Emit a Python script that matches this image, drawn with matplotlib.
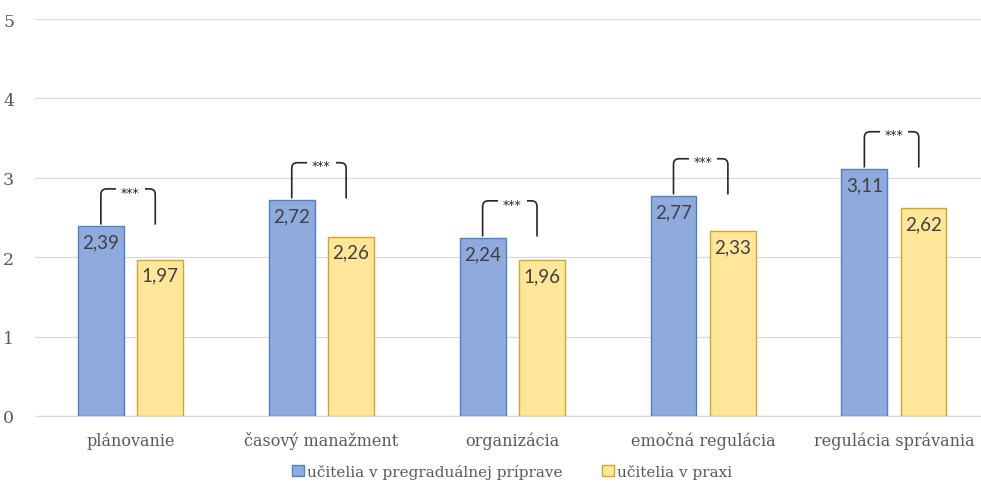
import numpy as np
import matplotlib
matplotlib.use('Agg')
import matplotlib.pyplot as plt
from matplotlib.path import Path
from matplotlib.patches import PathPatch, Rectangle

# ── data ──
categories = ['plánovanie', 'časový manažment', 'organizácia',
              'emočná regulácia', 'regulácia správania']
pregraduali = [2.39, 2.72, 2.24, 2.77, 3.11]
prax = [1.97, 2.26, 1.96, 2.33, 2.62]
series_names = ['učitelia v pregraduálnej príprave', 'učitelia v praxi']
signif = ['***', '***', '***', '***', '***']
y_ticks = [0, 1, 2, 3, 4, 5]

SERIF = ['DejaVu Serif']
SANS = ['Lato', 'DejaVu Sans']
GRAY = '#595959'

fig = plt.figure(figsize=(9.81, 4.85), dpi=100)
ax = fig.add_axes([35 / 981, 68 / 485, 946 / 981, 397 / 485])

x = np.arange(len(categories))
w = 0.24
off = 0.155

b1 = ax.bar(x - off, pregraduali, w, color='#8FAADC', edgecolor='#4F81C7',
            linewidth=1.0, zorder=3, label=series_names[0])
b2 = ax.bar(x + off, prax, w, color='#FFE699', edgecolor='#D1A52A',
            linewidth=1.0, zorder=3, label=series_names[1])

# ── data labels (inside end) ──
for bars, vals in ((b1, pregraduali), (b2, prax)):
    for r, v in zip(bars, vals):
        ax.annotate(f'{v:.2f}'.replace('.', ','),
                    (r.get_x() + r.get_width() / 2, v),
                    xytext=(0, -5), textcoords='offset points',
                    ha='center', va='top', fontsize=13.5, color='#404040',
                    family=SANS, zorder=5)

# ── significance brackets ──
rx, ry = 0.03, 0.07
for i, (a, s) in enumerate(zip(pregraduali, signif)):
    xl = i - off
    xr = i + off - 0.025
    yt = a + 0.47
    yb = a + 0.02
    verts = [(xl, yb), (xl, yt - ry), (xl, yt), (xl + rx, yt),
             (xr - rx, yt), (xr, yt), (xr, yt - ry), (xr, yb)]
    codes = [Path.MOVETO, Path.LINETO, Path.CURVE3, Path.CURVE3,
             Path.LINETO, Path.CURVE3, Path.CURVE3, Path.LINETO]
    ax.add_patch(PathPatch(Path(verts, codes), fill=False,
                           edgecolor='#262626', linewidth=1.2, zorder=4))
    ax.add_patch(Rectangle((i - 0.075, yt - 0.17), 0.15, 0.2,
                           facecolor='white', edgecolor='none', zorder=4))
    ax.text(i, yt - 0.04, s, ha='center', va='center', fontsize=9,
            color='#262626', family=['DejaVu Sans'], zorder=5)

# ── axes ──
ax.set_xlim(-0.5, 4.456)
ax.set_ylim(0, 5)
ax.set_yticks(y_ticks)
ax.set_yticklabels([str(t) for t in y_ticks], family=SERIF, fontsize=12.5,
                   color=GRAY)
ax.set_xticks(x)
ax.set_xticklabels(categories, family=SERIF, fontsize=11.5, color=GRAY)
ax.tick_params(axis='y', length=0, pad=15)
ax.tick_params(axis='x', length=0, pad=11)
ax.grid(axis='y', color='#D9D9D9', linewidth=0.9, zorder=0)
ax.set_axisbelow(True)
for sp in ('top', 'right', 'left'):
    ax.spines[sp].set_visible(False)
ax.spines['bottom'].set_color('#D9D9D9')
ax.spines['bottom'].set_linewidth(0.9)

fig.legend(handles=[b1, b2], labels=series_names, loc='lower center',
           bbox_to_anchor=(0.522, -0.018), ncol=2, frameon=False,
           handlelength=0.75, handleheight=0.75, handletextpad=0.2,
           columnspacing=2.6, prop={'family': SERIF, 'size': 11},
           labelcolor=GRAY)

fig.savefig('out.png', dpi=100)
